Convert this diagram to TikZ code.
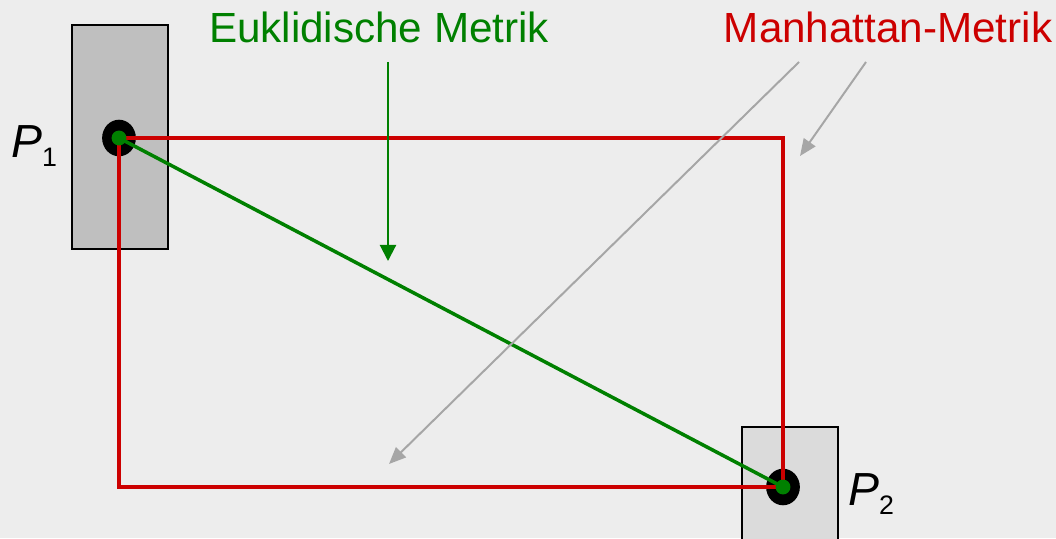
\documentclass[tikz,border=0pt]{standalone}
\usepackage{fontspec}
\setmainfont{Liberation Sans}
\usetikzlibrary{arrows.meta}
\usetikzlibrary{shapes.geometric}
\usetikzlibrary{calc}

\definecolor{bgcol}{HTML}{EDEDED}
\definecolor{metgreen}{HTML}{008000}
\definecolor{metred}{HTML}{CC0000}
\definecolor{hintgray}{HTML}{A6A6A6}

\tikzset{
	cell/.style={draw=black,line width=1.2},
	spot/.style={fill=black,ellipse,inner sep=0pt,minimum width=24,minimum height=26},
	core/.style={fill=metgreen,circle,inner sep=0pt,minimum size=10.6},
	lbl/.style={anchor=base,font=\fontsize{30}{30}\selectfont},
	pname/.style={anchor=base west,inner sep=0pt,font=\fontsize{33}{33}\selectfont\itshape}
}
\newcommand{\pidx}[1]{\raisebox{-7pt}{\upshape\fontsize{19}{19}\selectfont #1}}

\begin{document}
\begin{tikzpicture}[x=0.025cm,y=-0.025cm]
			\useasboundingbox (0,0) rectangle (1056,538);
			\fill[bgcol] (0,0) rectangle (1056,538);
			
			% the two cells
			\draw[cell,fill=black!25] (72,25) rectangle (168,249);
			\draw[cell,fill=black!14] (742,427) rectangle (838,560);
			
			\coordinate (p1) at (119,138);
			\coordinate (p2) at (783,487);
			\node[spot] (s1) at (p1) {};
			\node[spot] (s2) at (p2) {};
			
			\node[pname] (n1) at (11,157) {P\pidx{1}};
			\node[pname] (n2) at (848,505) {P\pidx{2}};
			
			% manhattan paths
			\draw[metred,line width=2.8] (p1) -| (p2);
			\draw[metred,line width=2.8] (p1) |- (p2);
			
			% euclidean path
			\draw[metgreen,line width=2.5] (p1) -- (p2);
			\node[core] at (p1) {};
			\node[core] at (p2) {};
			
			\node[lbl,text=metgreen] (eu) at (379,43) {Euklidische Metrik};
			\node[lbl,text=metred] (ma) at (888,43) {Manhattan-Metrik};
			
			\coordinate (eu0) at (388,62);
			\coordinate (eu1) at (388,261);
			\draw[metgreen,line width=1.5,-{Triangle[length=11.5,width=11.5]}] (eu0) -- (eu1);
			
			\coordinate (ma0) at (799,62);
			\coordinate (ma1) at (389,464);
			\coordinate (ma2) at (866,62);
			\coordinate (ma3) at (800,156);
			\draw[hintgray,line width=1.4,-{Triangle[length=12,width=10]}] (ma0) -- (ma1);
			\draw[hintgray,line width=1.4,-{Triangle[length=12,width=10]}] (ma2) -- (ma3);
			
		\end{tikzpicture}
\end{document}
